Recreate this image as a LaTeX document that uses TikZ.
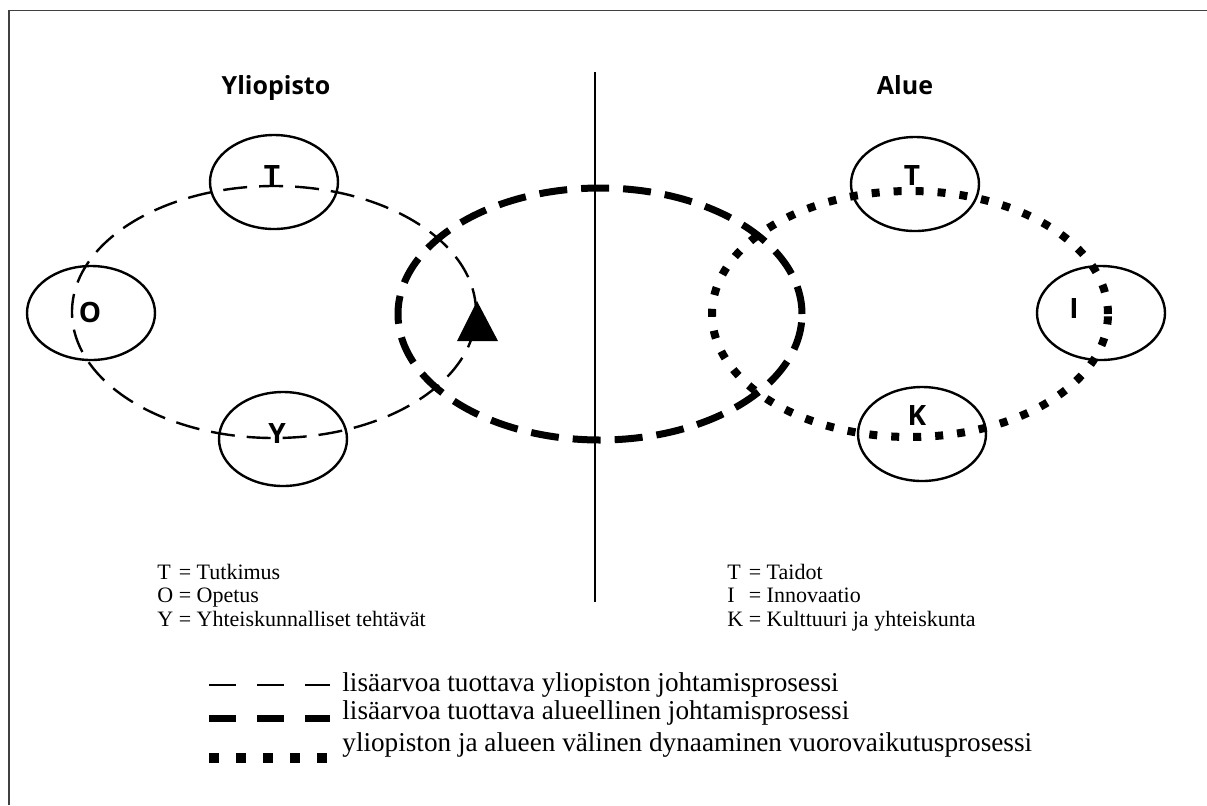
\documentclass[tikz,border=0pt]{standalone}
\usepackage{fontspec}
\setmainfont{Liberation Serif}
\newfontfamily\headfont{Open Sans}
\usetikzlibrary{shapes.geometric, positioning}

\begin{document}
\begin{tikzpicture}[x=0.5pt, y=-0.5pt,
    ring/.style={ellipse, draw, line width=1.2pt, minimum width=64pt, minimum height=47pt, inner sep=0pt},
    letter/.style={font=\headfont\bfseries\fontsize{14}{16}\selectfont, inner sep=0pt},
    head/.style={font=\headfont\bfseries\fontsize{12.5}{15}\selectfont, inner sep=0pt, anchor=base},
    uniline/.style={dash pattern=on 12pt off 6pt, line width=1.2pt},
    regline/.style={dash pattern=on 14pt off 7pt, line width=3.5pt},
    dynline/.style={dash pattern=on 4pt off 7pt, line width=4pt},
    key/.style={anchor=west, inner sep=0pt, font=\fontsize{11}{11.8}\selectfont},
    legtext/.style={anchor=west, inner sep=0pt, font=\fontsize{13.6}{15}\selectfont}
  ]
  \useasboundingbox (0,0) rectangle (1207,805);
  \draw[line width=0.75pt, black!75] (9,805) -- (9,10.5) -- (1207,10.5);

  % otsikot ja jakoviiva
  \node[head] (yo) at (276,94) {Yliopisto};
  \node[head] (alue) at (905,94) {Alue};
  \coordinate (divtop) at (595,72);
  \coordinate (divbot) at (595,602);
  \draw[line width=0.7pt] (divtop) -- (divbot);

  % prosessit
  \draw[uniline] (274,312) ellipse [x radius=101pt, y radius=63pt];
  \draw[regline] (600,314) ellipse [x radius=101pt, y radius=63pt];
  \draw[dynline] (910,314) ellipse [x radius=99pt, y radius=61.5pt];

  % yliopisto
  \node[ring] (tutk) at (274,182) {};
  \node[ring] (opet) at (91,313) {};
  \node[ring] (yht) at (283,439) {};
  \node[letter] (tutkL) at (272,175) {T};
  \node[letter] (opetL) at (90,312) {O};
  \node[letter] (yhtL) at (277,433) {Y};

  % alue
  \node[ring] (taid) at (915,184) {};
  \node[ring] (inno) at (1101,313) {};
  \node[ring] (kult) at (922,434) {};
  \node[letter] (taidL) at (912,175) {T};
  \node[letter] (innoL) at (1074,308) {I};
  \node[letter] (kultL) at (917,415) {K};

  \coordinate (apex) at (477,301);
  \fill (apex) -- ++(-20,40) -- ++(41,0) -- cycle;

  % selitteet
  \node[key] (yokey) at (157,598) {\begin{tabular}{@{}l@{ = }l@{}}
    T & Tutkimus\\ O & Opetus\\ Y & Yhteiskunnalliset tehtävät\end{tabular}};
  \node[key] (aluekey) at (727,598) {\begin{tabular}{@{}l@{ = }l@{}}
    T & Taidot\\ I & Innovaatio\\ K & Kulttuuri ja yhteiskunta\end{tabular}};

  \coordinate (s1) at (209,685);
  \coordinate (e1) at (330,685);
  \coordinate (s2) at (209,718);
  \coordinate (e2) at (330,718);
  \coordinate (s3) at (209,758);
  \coordinate (e3) at (330,758);
  \draw[line width=1.3pt, dash pattern=on 13.5pt off 10.5pt] (s1) -- (e1);
  \draw[line width=3.5pt, dash pattern=on 13.5pt off 10.5pt] (s2) -- (e2);
  \draw[line width=5pt, dash pattern=on 5pt off 8.5pt] (s3) -- (e3);
  \node[legtext] (leg1) at (342,685) {lisäarvoa tuottava yliopiston johtamisprosessi};
  \node[legtext] (leg2) at (342,713) {lisäarvoa tuottava alueellinen johtamisprosessi};
  \node[legtext] (leg3) at (342,745) {yliopiston ja alueen välinen dynaaminen vuorovaikutusprosessi};
\end{tikzpicture}
\end{document}
